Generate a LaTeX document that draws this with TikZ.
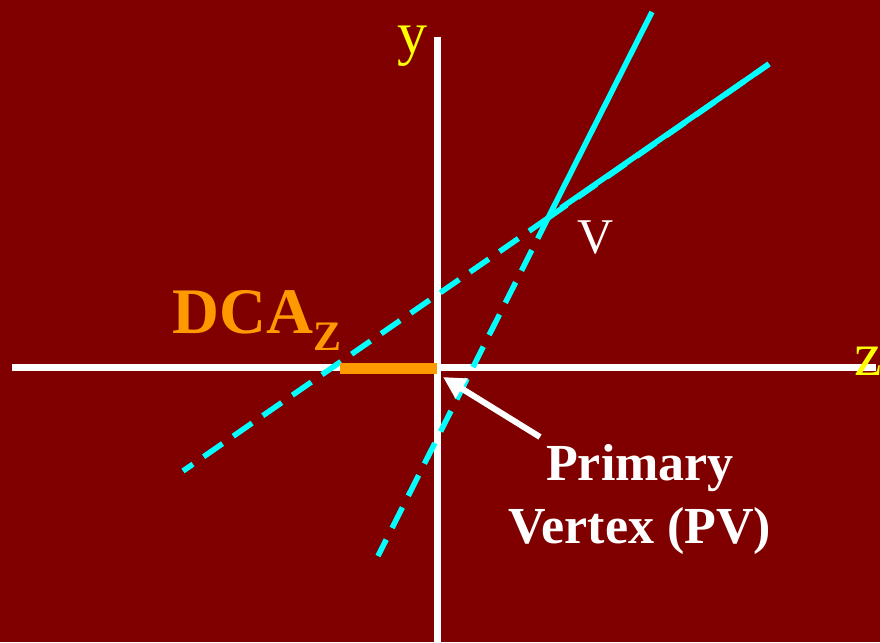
\documentclass[tikz,border=0pt]{standalone}
\usepackage{fontspec}
\setmainfont{Liberation Serif}
\usetikzlibrary{arrows.meta,positioning}
\definecolor{bgred}{HTML}{800000}
\definecolor{trk}{HTML}{00FFFF}
\definecolor{dcaorange}{HTML}{FF9900}
\definecolor{axlabel}{HTML}{FFFF00}
\tikzset{
  axis/.style={draw=white,line width=7pt},
  track/.style={draw=trk,line width=5.5pt},
  dtrack/.style={track,dash pattern=on 23pt off 13pt},
  ptr/.style={draw=white,line width=6pt,-{Triangle[length=22pt,width=22pt]}},
}
\begin{document}
\begin{tikzpicture}[x=1pt,y=-1pt]
\fill[bgred] (0,0) rectangle (880,642);
\useasboundingbox (0,0) rectangle (880,642);
% axes
\coordinate (zl) at (12,367);
\coordinate (zr) at (876,367);
\coordinate (yt) at (437,37);
\coordinate (yb) at (437,642);
\draw[axis] (zl) -- (zr);
\draw[axis] (yt) -- (yb);
\node[inner sep=0,anchor=base west,text=axlabel,font=\fontsize{60}{60}\selectfont] (ylab) at (397,54) {y};
\node[inner sep=0,anchor=base west,text=axlabel,font=\fontsize{62}{62}\selectfont] (zlab) at (854,375) {z};
% vertex and tracks
\coordinate (pv) at (437,368);
\coordinate (v) at (548,218);
\coordinate (ta) at (652,12);
\coordinate (taend) at (378,556);
\coordinate (tbstart) at (561,208);
\coordinate (tb) at (769,64);
\coordinate (tbend) at (183,471);
\draw[track] (v) -- (ta);
\draw[track] (tbstart) -- (tb);
\draw[dtrack,yshift=2pt] (v) -- (tb);
\draw[dtrack] (v) -- (taend);
\draw[dtrack] (v) -- (tbend);
\node[inner sep=0,anchor=base west,text=white,font=\fontsize{50}{50}\selectfont] (vlab) at (577,253) {V};
% DCA
\coordinate (dca) at (340,368);
\draw[draw=dcaorange,line width=11pt] (dca) -- (pv);
\node[inner sep=0,anchor=base west,text=dcaorange,font=\fontsize{65}{65}\selectfont\bfseries] (dcalab) at (172,333) {DCA\raisebox{-17pt}{\fontsize{42}{42}\selectfont Z}};
% primary vertex label
\node[inner sep=0,anchor=base,align=center,text=white,font=\fontsize{52}{63}\selectfont\bfseries] (pvlab) at (640,543) {Primary\\Vertex (PV)};
\coordinate (ptail) at (540,437);
\coordinate (ptip) at (443,377);
\draw[ptr] (ptail) -- (ptip);
\end{tikzpicture}
\end{document}
